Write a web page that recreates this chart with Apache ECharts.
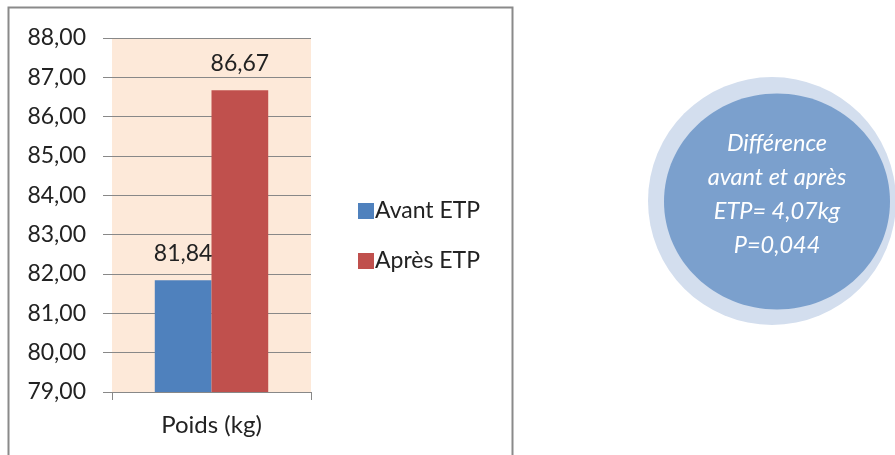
<!DOCTYPE html>
<html>
<head>
<meta charset="utf-8">
<script src="https://cdn.jsdelivr.net/npm/echarts@6/dist/echarts.min.js"></script>
<style>
  html, body { margin: 0; padding: 0; background: #fff; }
  #chart { width: 895px; height: 455px; }
</style>
</head>
<body>
<div id="chart"></div>
<script>
// data
const categories = ['Poids (kg)'];
const seriesNames = ['Avant ETP', 'Après ETP'];
const avantValues = [81.84];
const apresValues = [86.67];
const yMin = 79, yMax = 88, yStep = 1;
const noteLines = ['Différence', 'avant et après', 'ETP= 4,07kg', 'P=0,044'];

const FONT = 'Lato, "Open Sans", sans-serif';
const frFmt = v => Number(v).toFixed(2).replace('.', ',');

const chart = echarts.init(document.getElementById('chart'));

// texte dans le cercle
const noteText = noteLines.map((t, i) => ({
  type: 'text',
  z: 10,
  style: {
    x: 777, y: 143 + i * 34,
    text: t,
    fill: '#fff',
    font: 'italic 23.5px ' + FONT,
    textAlign: 'center',
    textVerticalAlign: 'middle'
  }
}));

chart.setOption({
  animation: false,
  color: ['#4F81BD', '#C0504D'],
  textStyle: { fontFamily: FONT },
  grid: {
    left: 112, right: 584, top: 38, bottom: 63,
    show: true, backgroundColor: '#FDE9D9', borderWidth: 0
  },
  legend: {
    orient: 'vertical',
    left: 353, top: 193,
    itemWidth: 16, itemHeight: 16, itemGap: 24,
    icon: 'rect',
    textStyle: { fontSize: 23, color: '#222', lineHeight: 26, padding: [0, 0, 0, -4] },
    data: seriesNames
  },
  xAxis: {
    type: 'category',
    data: categories,
    axisLine: { lineStyle: { color: '#888', width: 1 } },
    axisTick: { show: true, length: 8, lineStyle: { color: '#888' } },
    axisLabel: { fontSize: 24, color: '#222', margin: 21 }
  },
  yAxis: {
    type: 'value',
    min: yMin, max: yMax, interval: yStep,
    axisLine: { show: false },
    axisTick: { show: true, length: 9, lineStyle: { color: '#888' } },
    splitLine: { lineStyle: { color: '#888', width: 1 } },
    axisLabel: { fontSize: 23, color: '#222', margin: 26, formatter: frFmt }
  },
  series: [
    {
      name: seriesNames[0], type: 'bar', data: avantValues,
      barGap: '0%', barCategoryGap: '43%',
      label: { show: true, position: 'top', distance: 15, fontSize: 23, color: '#222', formatter: p => frFmt(p.value) }
    },
    {
      name: seriesNames[1], type: 'bar', data: apresValues,
      label: { show: true, position: 'top', distance: 15, fontSize: 23, color: '#222', formatter: p => frFmt(p.value) }
    }
  ],
  graphic: [
    {
      type: 'polyline',
      silent: true,
      shape: { points: [[8.5, 460], [8.5, 7.5], [512.5, 7.5], [512.5, 460]] },
      style: { stroke: '#8a8a8a', lineWidth: 2, fill: null }
    },
    {
      type: 'circle',
      shape: { cx: 772, cy: 201, r: 124 },
      style: { fill: '#D3DEEE' }
    },
    {
      type: 'ellipse',
      shape: { cx: 777, cy: 201.5, rx: 113, ry: 108 },
      style: { fill: '#7BA0CD' }
    }
  ].concat(noteText)
});
</script>
</body>
</html>
